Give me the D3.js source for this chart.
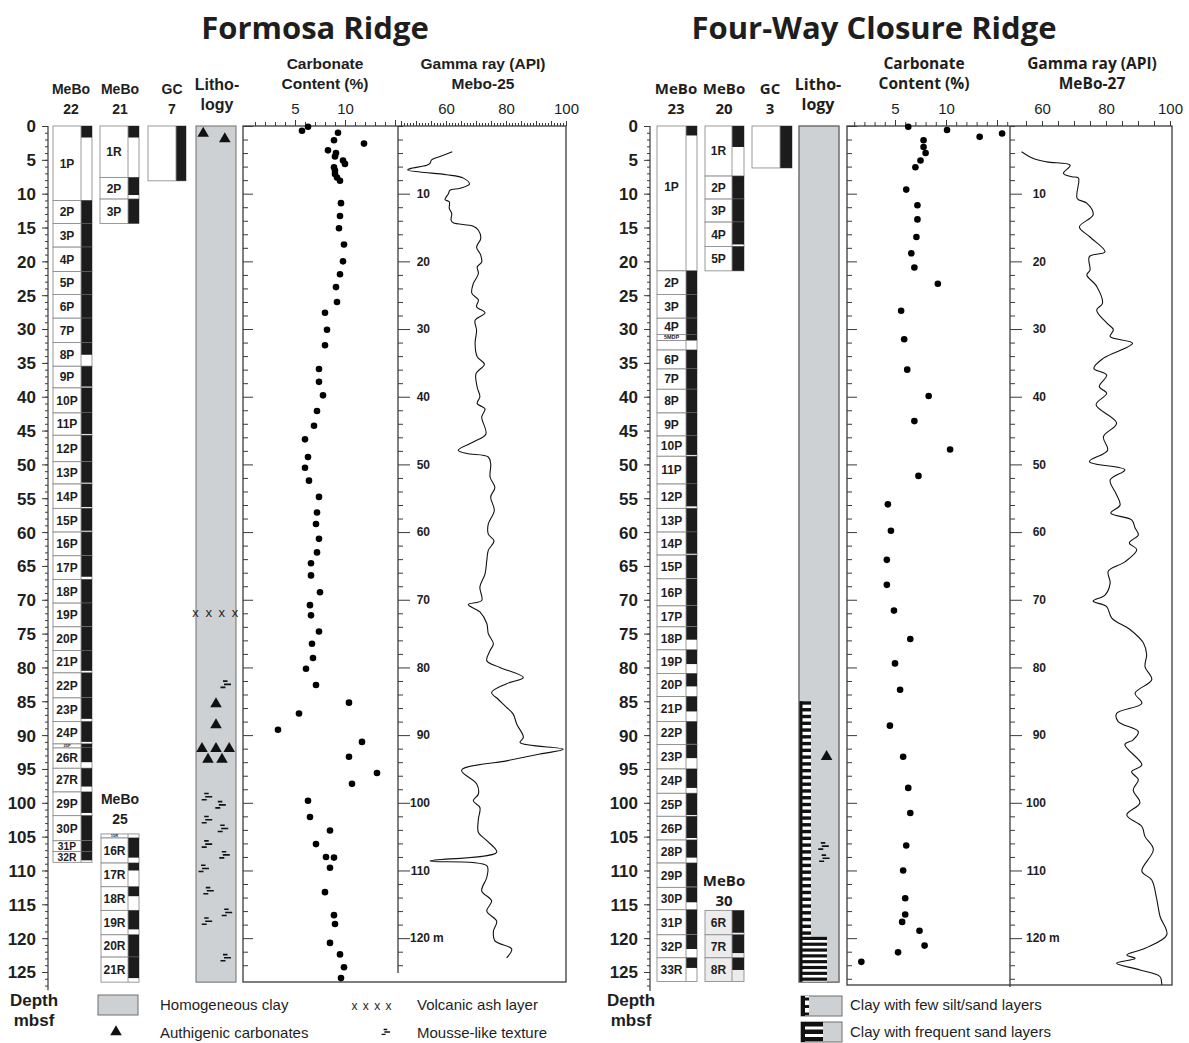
<!DOCTYPE html>
<html>
<head>
<meta charset="utf-8">
<script src="https://cdn.jsdelivr.net/npm/d3@7"></script>
<style>
  body { margin: 0; background: #fff; }
  svg { display: block; }
  text { font-family: "Liberation Sans", Arial, sans-serif; fill: #1e1e1e; }
</style>
</head>
<body>
<svg id="chart" width="1189" height="1043"></svg>
<script>
// ---------- Formosa Ridge ----------
// sections: [name, top (m), bottom (m), recovered down to (m)]
const mebo22 = [
  ["1P", 0, 11.0, 1.7], ["2P", 11.0, 14.4, 14.4], ["3P", 14.4, 17.9, 17.9], ["4P", 17.9, 21.5, 21.5],
  ["5P", 21.5, 24.9, 24.9], ["6P", 24.9, 28.4, 28.4], ["7P", 28.4, 32.0, 32.0], ["8P", 32.0, 35.5, 33.8],
  ["9P", 35.5, 38.7, 38.5], ["10P", 38.7, 42.4, 42.4], ["11P", 42.4, 45.7, 45.5], ["12P", 45.7, 49.6, 49.6],
  ["13P", 49.6, 52.9, 52.7], ["14P", 52.9, 56.5, 56.3], ["15P", 56.5, 60.0, 59.8], ["16P", 60.0, 63.5, 63.5],
  ["17P", 63.5, 67.0, 66.6], ["18P", 67.0, 70.5, 70.5], ["19P", 70.5, 74.0, 74.0], ["20P", 74.0, 77.5, 77.5],
  ["21P", 77.5, 80.8, 80.5], ["22P", 80.8, 84.5, 84.5], ["23P", 84.5, 88.0, 87.6], ["24P", 88.0, 91.3, 91.0],
  ["25P", 91.3, 91.9, 91.9], ["26R", 91.9, 94.9, 94.0], ["27R", 94.9, 98.4, 97.6], ["29P", 98.4, 101.9, 101.5],
  ["30P", 101.9, 105.6, 105.6], ["31P", 105.6, 107.2, 107.2], ["32R", 107.2, 108.8, 108.5]
];
const mebo21 = [["1R", 0, 7.6, 1.7], ["2P", 7.6, 10.8, 10.2], ["3P", 10.8, 14.4, 14.4]];
const gc7 = [["", 0, 8.1, 8.1]];
const mebo25 = [
  ["15R", 104.6, 105.2, 104.6], ["16R", 105.2, 108.9, 108.1], ["17R", 108.9, 112.4, 110.0],
  ["18R", 112.4, 115.9, 113.8], ["19R", 115.9, 119.5, 118.7], ["20R", 119.5, 122.8, 122.8],
  ["21R", 122.8, 126.5, 125.9]
];
// carbonate content: [depth, %]
const carbFormosa = [
  [0.1, 6.3], [0.7, 5.7], [1.0, 9.3], [2.1, 8.9], [2.6, 11.9], [3.6, 8.3], [4.0, 9.1], [4.5, 9.0],
  [5.1, 9.8], [5.6, 10.0], [6.1, 8.9], [6.6, 9.0], [7.1, 9.0], [7.6, 9.2], [8.1, 9.5], [11.4, 9.6],
  [13.3, 9.5], [15.1, 9.4], [17.5, 9.9], [20.0, 9.8], [21.9, 9.5], [23.8, 9.1], [26.0, 9.2], [27.6, 8.0],
  [30.1, 8.2], [32.4, 8.0], [35.9, 7.4], [37.8, 7.4], [39.8, 7.8], [42.1, 7.2], [44.3, 6.9], [46.3, 6.0],
  [48.9, 6.3], [50.5, 6.0], [52.4, 6.4], [54.8, 7.4], [57.1, 7.2], [58.8, 7.1], [61.0, 7.4], [63.0, 7.2],
  [64.6, 6.6], [66.4, 6.6], [68.9, 7.5], [70.8, 6.5], [72.3, 6.6], [74.7, 7.4], [76.5, 6.7], [78.6, 6.8],
  [80.2, 6.1], [82.6, 7.1], [85.2, 10.4], [86.8, 5.4], [89.2, 3.3], [91.0, 11.7], [93.2, 10.4], [95.6, 13.2],
  [97.2, 10.7], [99.7, 6.3], [102.1, 6.5], [104.1, 8.5], [106.1, 7.1], [108.0, 8.1], [108.1, 8.9],
  [109.6, 8.5], [113.2, 8.0], [116.6, 8.9], [117.9, 9.0], [120.7, 8.5], [122.4, 9.5], [124.3, 9.9], [125.9, 9.6]
];
// gamma ray Mebo-25: [depth, API]
const gammaFormosa = [
  [3.8, 62.1], [4.5, 58], [5.0, 55.2], [5.5, 54.7], [5.8, 53.6], [6.3, 48], [6.5, 47.2], [6.8, 51.3],
  [7.2, 60.2], [7.7, 65.8], [8.6, 67.8], [9.2, 64.7], [9.5, 61.3], [10.0, 60.8], [10.6, 59.9], [10.9, 59.7],
  [11.2, 61.1], [12.2, 61.1], [12.9, 61.9], [13.9, 61.7], [14.3, 62.4], [14.8, 69.1], [15.4, 70.8],
  [16.6, 71.6], [17.9, 70.2], [19.0, 71.5], [20.1, 71.9], [20.8, 70.4], [21.8, 70.8], [23.3, 69.1],
  [24.7, 68.6], [25.7, 70.8], [26.7, 70.2], [27.6, 73], [28.7, 69.7], [30.2, 70.2], [32.1, 69.7],
  [34.1, 70.4], [35.2, 72.8], [36.6, 70], [38.6, 70.4], [40.0, 71.3], [41.0, 70.4], [41.8, 73],
  [43.0, 71.9], [45.5, 73.3], [46.7, 69.1], [47.9, 64.1], [48.4, 66.9], [48.9, 74.1], [49.9, 74.9],
  [51.9, 74.7], [53.4, 76.3], [54.8, 74.9], [56.8, 76.1], [58.8, 74.1], [60.3, 74.1], [61.3, 76],
  [62.7, 74.1], [64.2, 73.6], [66.2, 73], [68.1, 71.3], [70.1, 71.9], [70.7, 67.4], [71.8, 71.3],
  [73.5, 73.6], [75.0, 74.1], [76.5, 75.8], [77.5, 74.7], [79.0, 73.6], [80.0, 78], [81.5, 85.8],
  [82.4, 80.2], [83.7, 75.2], [84.7, 77.4], [85.9, 80.2], [86.9, 82.4], [88.4, 83.6], [90.3, 85.8],
  [91.1, 84.7], [92.1, 99.1], [92.8, 91.3], [93.8, 80.2], [95.2, 65.2], [97.2, 70.2], [98.7, 70.8],
  [99.7, 69.1], [100.7, 71.3], [102.4, 70.8], [104.4, 70.8], [105.6, 73.6], [107.3, 76.9], [108.6, 54.7],
  [109.3, 73.6], [111.0, 73.6], [113.0, 71.9], [114.5, 75.2], [116.0, 73.6], [117.5, 76.9], [119.0, 75.8],
  [120.4, 76.3], [121.6, 81.9], [122.9, 80.2]
];
// lithology symbols: [depth, position across the column 0..1]
const authFormosa = [[1.1, 0.18], [1.9, 0.72], [85.4, 0.5], [88.5, 0.5], [92.0, 0.15], [92.0, 0.5], [92.0, 0.83], [93.6, 0.3], [93.6, 0.65]];
const mousseFormosa = [[82.5, 0.75], [99.1, 0.28], [100.3, 0.62], [102.5, 0.28], [103.8, 0.68], [106.1, 0.28], [107.7, 0.72], [109.7, 0.2], [113.0, 0.32], [116.2, 0.78], [117.5, 0.28], [122.9, 0.75]];
const ashFormosa = [72.0];

// ---------- Four-Way Closure Ridge ----------
const mebo23 = [
  ["1P", 0, 21.4, 1.4], ["2P", 21.4, 24.9, 24.9], ["3P", 24.9, 28.4, 28.4], ["4P", 28.4, 30.8, 30.8],
  ["5MDP", 30.8, 31.7, 31.7], ["", 31.7, 33.1, 31.7], ["6P", 33.1, 35.9, 35.9], ["7P", 35.9, 38.9, 38.9],
  ["8P", 38.9, 42.4, 42.4], ["9P", 42.4, 45.8, 45.8], ["10P", 45.8, 48.8, 48.6], ["11P", 48.8, 52.9, 52.9],
  ["12P", 52.9, 56.5, 56.2], ["13P", 56.5, 60.0, 60.0], ["14P", 60.0, 63.4, 63.2], ["15P", 63.4, 66.9, 66.8],
  ["16P", 66.9, 70.9, 70.9], ["17P", 70.9, 74.0, 74.0], ["18P", 74.0, 77.4, 75.9], ["19P", 77.4, 80.9, 79.5],
  ["20P", 80.9, 84.3, 82.8], ["21P", 84.3, 88.0, 86.5], ["22P", 88.0, 91.4, 91.3], ["23P", 91.4, 95.0, 93.4],
  ["24P", 95.0, 98.6, 97.8], ["25P", 98.6, 102.0, 101.8], ["26P", 102.0, 105.5, 105.2], ["28P", 105.5, 108.9, 108.1],
  ["29P", 108.9, 112.5, 112.4], ["30P", 112.5, 115.8, 114.7], ["31P", 115.8, 119.5, 119.5], ["32P", 119.5, 122.9, 121.6],
  ["33R", 122.9, 126.4, 124.4]
];
const mebo20 = [["1R", 0, 7.4, 3.1], ["2P", 7.4, 10.8, 10.8], ["3P", 10.8, 14.2, 14.2], ["4P", 14.2, 17.8, 17.5], ["5P", 17.8, 21.4, 21.4]];
const gc3 = [["", 0, 6.2, 6.2]];
const mebo30 = [["6R", 115.9, 119.5, 119.2], ["7R", 119.5, 122.9, 122.2], ["8R", 122.9, 126.4, 124.7]];
const carbFourWay = [
  [0.1, 6.3], [0.6, 10.1], [1.6, 13.3], [1.1, 15.5], [2.1, 7.8], [3.1, 7.8], [4.0, 8.0], [5.1, 7.5],
  [6.1, 7.0], [9.4, 6.1], [11.7, 7.2], [13.8, 7.2], [16.4, 7.1], [18.8, 6.6], [20.9, 6.9], [23.3, 9.2],
  [27.3, 5.6], [31.5, 5.9], [36.0, 6.2], [39.9, 8.3], [43.6, 6.9], [47.8, 10.4], [51.7, 7.3], [55.9, 4.3],
  [59.8, 4.6], [64.1, 4.2], [67.8, 4.2], [71.6, 4.9], [75.8, 6.5], [79.4, 5.0], [83.3, 5.5], [88.6, 4.5],
  [93.2, 5.8], [97.8, 6.3], [101.5, 6.5], [106.3, 6.1], [110.0, 5.8], [114.1, 6.0], [116.5, 6.0],
  [117.6, 5.7], [118.9, 7.4], [121.1, 7.9], [122.1, 5.3], [123.5, 1.7]
];
const gammaFourWay = [
  [3.8, 53.6], [4.8, 57.3], [5.3, 61.5], [5.8, 68.8], [7.0, 66.7], [7.5, 69.3], [7.7, 71.4], [10.7, 71],
  [11.4, 74], [13.1, 76], [14.9, 71.7], [16.4, 75], [18.6, 79.7], [19.3, 74.8], [21.3, 75], [22.0, 74],
  [23.7, 77.1], [26.2, 78.9], [27.2, 77.1], [29.1, 80.2], [30.1, 82.3], [31.1, 81.3], [32.1, 88.3],
  [34.3, 79.2], [35.8, 76.2], [36.8, 80.2], [38.5, 77.9], [39.5, 80.2], [41.2, 76.9], [43.9, 83.3],
  [45.9, 79.2], [47.9, 80.5], [49.6, 74.8], [50.8, 85.9], [52.3, 81.3], [54.3, 83.1], [56.0, 84.4],
  [57.2, 81.5], [58.2, 88], [59.4, 89.1], [60.4, 90.1], [61.6, 87.3], [62.6, 89.6], [64.4, 85.9],
  [65.8, 80.7], [67.5, 81.3], [69.3, 79.7], [70.2, 76], [71.0, 80.2], [72.7, 81.8], [74.4, 87.5],
  [76.4, 91.7], [78.1, 92.7], [79.9, 92.2], [81.8, 94.3], [83.8, 89.1], [85.3, 91.2], [86.8, 83.3],
  [88.0, 83.8], [89.5, 90.1], [90.7, 88.5], [91.4, 85.9], [94.4, 91.2], [95.4, 88], [96.6, 90.1],
  [98.1, 88.5], [100.0, 90.6], [101.8, 86.5], [103.5, 91.2], [105.0, 92.2], [106.9, 94.8], [110.1, 91.2],
  [111.4, 94.3], [114.1, 95.8], [116.8, 96.9], [119.5, 99], [121.5, 92.2], [122.5, 86.5], [123.0, 89.1],
  [123.7, 83.3], [124.7, 90.6], [125.7, 96.9], [126.9, 97.4]
];
const authFourWay = [[93.2, 0.69]];
const mousseFourWay = [[106.4, 0.62], [108.2, 0.64]];
const sandFew = [85.0, 119.8];
const sandFrequent = [119.8, 126.4];

const depthLabels = d3.range(0, 126, 5);

// ---------- shared ----------
const svg = d3.select("#chart");
const y = d3.scaleLinear().domain([0, 125]).range([126, 972]);
const GRAY = "#cdd1d4";
const FRAME = "#3a3a3a";

// titles
svg.append("text").attr("x", 315).attr("y", 39).attr("text-anchor", "middle")
  .style("font-family", "'Open Sans', sans-serif").style("font-weight", "bold").style("font-size", "31px")
  .text("Formosa Ridge");
svg.append("text").attr("x", 874).attr("y", 39).attr("text-anchor", "middle")
  .style("font-family", "'Open Sans', sans-serif").style("font-weight", "bold").style("font-size", "31px")
  .text("Four-Way Closure Ridge");

function headerText(x, lines, y0, size, family) {
  const t = svg.append("text").attr("text-anchor", "middle")
    .style("font-weight", "bold").style("font-size", size + "px");
  if (family) t.style("font-family", family);
  lines.forEach((l, i) => t.append("tspan").attr("x", x).attr("y", y0 + i * 20).text(l));
}

function depthAxis(x0, maxDepth) {
  const minor = svg.append("g").attr("transform", `translate(${x0},0)`)
    .call(d3.axisLeft(y).tickValues(d3.range(0, maxDepth + 0.01, 1)).tickSize(3).tickFormat(""));
  minor.select(".domain").remove();
  const major = svg.append("g").attr("transform", `translate(${x0},0)`)
    .call(d3.axisLeft(y).tickValues(depthLabels).tickSize(6).tickPadding(6));
  major.select(".domain").remove();
  major.selectAll("text").style("font-size", "17px").style("font-weight", "bold").attr("dy", "0.35em");
  svg.selectAll(".tick line").attr("stroke", FRAME);
  svg.append("line").attr("x1", x0).attr("x2", x0).attr("y1", y(0)).attr("y2", y(maxDepth))
    .attr("stroke", FRAME).attr("stroke-width", 1.2);
}

function drawCore(sections, x0, wl, ws, fill) {
  const g = svg.append("g");
  const s = g.selectAll("g").data(sections).join("g");
  s.append("rect").attr("x", x0).attr("y", d => y(d[1]))
    .attr("width", wl + ws).attr("height", d => y(d[2]) - y(d[1]))
    .attr("fill", fill).attr("stroke", "#8f8f8f").attr("stroke-width", 0.9);
  s.append("rect").attr("x", x0 + wl).attr("y", d => y(d[1]))
    .attr("width", ws).attr("height", d => Math.max(0, y(d[3]) - y(d[1])))
    .attr("fill", "#1c1c1c");
  s.append("line").attr("x1", x0 + wl).attr("x2", x0 + wl)
    .attr("y1", d => y(d[1])).attr("y2", d => y(d[2]))
    .attr("stroke", "#8f8f8f").attr("stroke-width", 0.9);
  s.append("text")
    .attr("x", x0 + wl / 2)
    .attr("text-anchor", "middle")
    .each(function(d) {
      const h = y(d[2]) - y(d[1]);
      const fs = h < 7 ? Math.max(4, h * 0.9) : Math.min(12, h * 0.95);
      const mid = Math.min((d[1] + d[2]) / 2, d[1] + 9);
      d3.select(this).attr("y", y(mid) + fs * 0.36)
        .style("font-size", fs + "px").style("font-weight", "bold").text(d[0]);
    });
}

function drawLithology(x0, x1, bottom) {
  svg.append("rect").attr("x", x0).attr("y", y(0)).attr("width", x1 - x0)
    .attr("height", y(bottom) - y(0)).attr("fill", GRAY).attr("stroke", "#6e6e6e").attr("stroke-width", 1);
}

const triangle = d3.symbol(d3.symbolTriangle, 58);
const moussePath = "M-3,-3.2H1.5M-2,0H5M-5.5,3H-0.5";

function drawSymbols(xl, auth, mousse) {
  svg.append("g").selectAll("path").data(auth).join("path")
    .attr("d", triangle)
    .attr("transform", d => `translate(${xl(d[1])},${y(d[0])})`)
    .attr("fill", "#111");
  svg.append("g").selectAll("path").data(mousse).join("path")
    .attr("d", moussePath)
    .attr("transform", d => `translate(${xl(d[1])},${y(d[0])})`)
    .attr("stroke", "#111").attr("stroke-width", 1.6).attr("fill", "none");
}

function drawPanels(o) {
  // frame
  svg.append("rect").attr("x", o.cx0).attr("y", y(0)).attr("width", o.gx1 - o.cx0)
    .attr("height", o.bottomY - y(0)).attr("fill", "none").attr("stroke", FRAME).attr("stroke-width", 1.3);

  // carbonate top axis
  const ct = svg.append("g").attr("transform", `translate(0,${y(0)})`)
    .call(d3.axisTop(o.xc).tickValues(o.carbTicks).tickSize(4)
      .tickFormat(d => (d === 5 || d === 10) ? d : ""));
  ct.select(".domain").remove();
  ct.selectAll(".tick line").attr("stroke", FRAME).attr("y2", d => (d % 5 === 0) ? -6 : -4);
  ct.selectAll("text").attr("y", -12).style("font-size", "15px");

  // gamma top axis
  const gt = svg.append("g").attr("transform", `translate(0,${y(0)})`)
    .call(d3.axisTop(o.xg).tickValues(o.gamTicks).tickSize(4)
      .tickFormat(d => (d % 20 === 0) ? d : ""));
  gt.select(".domain").remove();
  gt.selectAll(".tick line").attr("stroke", FRAME).attr("y2", d => (d % 5 === 0) ? -5 : -3);
  gt.selectAll("text").attr("y", -12).style("font-size", "15px");

  // depth ticks inside carbonate panel (left border)
  const cl = svg.append("g").attr("transform", `translate(${o.cx0},0)`)
    .call(d3.axisRight(y).tickValues(d3.range(0, o.innerMax + 0.01, 2)).tickSize(5).tickFormat(""));
  cl.select(".domain").remove();
  cl.selectAll(".tick line").attr("stroke", FRAME).attr("x2", d => d % 10 === 0 ? 10 : 5);

  // divider = gamma depth axis
  svg.append("line").attr("x1", o.gx0).attr("x2", o.gx0).attr("y1", y(0)).attr("y2", o.dividerY)
    .attr("stroke", FRAME).attr("stroke-width", 1.3);
  const gl = svg.append("g").attr("transform", `translate(${o.gx0},0)`)
    .call(d3.axisRight(y).tickValues(d3.range(0, o.innerMax + 0.01, 2)).tickSize(5).tickFormat(""));
  gl.select(".domain").remove();
  gl.selectAll(".tick line").attr("stroke", FRAME).attr("x2", d => (d % 10 === 0 && d > 0) ? 12 : 5);
  svg.append("g").selectAll("text").data(d3.range(10, 121, 10)).join("text")
    .attr("x", o.gx0 + o.labelOff).attr("y", d => y(d)).attr("dy", "0.36em")
    .attr("text-anchor", "end").style("font-size", "12px").style("font-weight", "bold")
    .text(d => d);
  svg.append("text").attr("x", o.gx0 + o.labelOff + 3).attr("y", y(120)).attr("dy", "0.36em")
    .style("font-size", "12px").style("font-weight", "bold").text("m");

  // carbonate dots
  svg.append("g").selectAll("circle").data(o.carb).join("circle")
    .attr("cx", d => o.xc(d[1])).attr("cy", d => y(d[0])).attr("r", 3.3).attr("fill", "#000");

  // gamma curve
  const line = d3.line().x(d => o.xg(d[1])).y(d => y(d[0])).curve(d3.curveCatmullRom.alpha(0.5));
  svg.append("path").datum(o.gamma).attr("d", line)
    .attr("fill", "none").attr("stroke", "#111").attr("stroke-width", 1.1);
}

// ---------- Formosa Ridge ----------
headerText(71, ["MeBo", "22"], 94, 14);
headerText(120, ["MeBo", "21"], 94, 14);
headerText(172, ["GC", "7"], 94, 14);
headerText(217, ["Litho-", "logy"], 90, 16);
headerText(325, ["Carbonate", "Content (%)"], 69, 15.5);
headerText(483, ["Gamma ray (API)", "Mebo-25"], 69, 15.5);

depthAxis(48, 127.7);
drawCore(mebo22, 53, 28, 11, "#fff");
drawCore(mebo21, 100, 28, 11, "#fff");
drawCore(gc7, 148, 28, 10, "#fff");
headerText(120, ["MeBo", "25"], 804, 14);
drawCore(mebo25, 101, 27, 11, "#fff");

drawLithology(196, 236, 126.5);
const xlF = d3.scaleLinear().domain([0, 1]).range([196, 236]);
drawSymbols(xlF, authFormosa, mousseFormosa);
svg.append("g").selectAll("text").data(ashFormosa).join("text")
  .attr("x", xlF(0.5)).attr("y", d => y(d)).attr("dy", "0.32em").attr("text-anchor", "middle")
  .style("font-size", "13px").style("letter-spacing", "1.5px").text("x x x x");

drawPanels({
  cx0: 243, gx0: 398, gx1: 566, bottomY: 982, dividerY: 973, innerMax: 124, labelOff: 32,
  xc: d3.scaleLinear().domain([0, 15]).range([245, 395]),
  xg: d3.scaleLinear().domain([60, 100]).range([446, 566]),
  carbTicks: d3.range(1, 16, 1), gamTicks: d3.range(45, 101, 1),
  carb: carbFormosa, gamma: gammaFormosa
});

// ---------- Four-Way Closure Ridge ----------
headerText(676, ["MeBo", "23"], 94, 15, "'Open Sans', sans-serif");
headerText(724, ["MeBo", "20"], 94, 15, "'Open Sans', sans-serif");
headerText(770, ["GC", "3"], 94, 15, "'Open Sans', sans-serif");
headerText(818, ["Litho-", "logy"], 90, 16, "'Open Sans', sans-serif");
headerText(924, ["Carbonate", "Content (%)"], 69, 15.5, "'Open Sans', sans-serif");
headerText(1092, ["Gamma ray (API)", "MeBo-27"], 69, 15.5, "'Open Sans', sans-serif");

depthAxis(650, 127.8);
drawCore(mebo23, 657, 29, 11, "#fff");
drawCore(mebo20, 705, 27, 12, "#fff");
drawCore(gc3, 752, 28, 12, "#fff");
headerText(724, ["MeBo", "30"], 886, 15, "'Open Sans', sans-serif");
drawCore(mebo30, 705, 27, 12, "#ececec");

drawLithology(799, 839, 126.5);
// sand layers
const xlR = d3.scaleLinear().domain([0, 1]).range([799, 839]);
svg.append("rect").attr("x", xlR(0)).attr("y", y(sandFew[0])).attr("width", xlR(0.3) - xlR(0))
  .attr("height", y(126.5) - y(sandFew[0])).attr("fill", "#fff");
svg.append("rect").attr("x", xlR(0)).attr("y", y(sandFrequent[0])).attr("width", xlR(0.7) - xlR(0))
  .attr("height", y(126.5) - y(sandFrequent[0])).attr("fill", "#fff");
svg.append("rect").attr("x", xlR(0)).attr("y", y(sandFew[0])).attr("width", 3.5)
  .attr("height", y(126.5) - y(sandFew[0])).attr("fill", "#111");
svg.append("g").selectAll("rect").data(d3.range(sandFew[0], sandFew[1] - 0.3, 1.0)).join("rect")
  .attr("x", xlR(0)).attr("y", d => y(d)).attr("width", xlR(0.3) - xlR(0)).attr("height", 3.4).attr("fill", "#111");
svg.append("g").selectAll("rect").data(d3.range(sandFrequent[0], sandFrequent[1] - 0.2, 0.86)).join("rect")
  .attr("x", xlR(0)).attr("y", d => y(d)).attr("width", xlR(0.7) - xlR(0)).attr("height", 3.2).attr("fill", "#111");
svg.append("rect").attr("x", 799).attr("y", y(0)).attr("width", 40).attr("height", y(126.5) - y(0))
  .attr("fill", "none").attr("stroke", "#6e6e6e");
drawSymbols(xlR, authFourWay, mousseFourWay);

drawPanels({
  cx0: 847, gx0: 1010, gx1: 1172, bottomY: 985, dividerY: 987, innerMax: 126, labelOff: 36,
  xc: d3.scaleLinear().domain([0, 16]).range([844, 1007.2]),
  xg: d3.scaleLinear().domain([50, 100]).range([1010, 1170]),
  carbTicks: d3.range(1, 17, 1), gamTicks: d3.range(55, 101, 5),
  carb: carbFourWay, gamma: gammaFourWay
});

// ---------- legends ----------
const NARROW = "'Liberation Sans Narrow', 'Arial Narrow', 'Liberation Sans', sans-serif";
headerText(34, ["Depth", "mbsf"], 1006, 17);
headerText(631, ["Depth", "mbsf"], 1006, 17);

svg.append("rect").attr("x", 98).attr("y", 995).attr("width", 40).attr("height", 20)
  .attr("fill", GRAY).attr("stroke", "#6e6e6e");
svg.append("path").attr("d", triangle).attr("transform", "translate(116,1032)").attr("fill", "#111");
svg.append("text").attr("x", 372).attr("y", 1010).attr("text-anchor", "middle")
  .style("font-size", "12px").style("letter-spacing", "1px").text("x x x x");
svg.append("path").attr("d", moussePath).attr("transform", "translate(386,1032) scale(0.8)")
  .attr("stroke", "#111").attr("stroke-width", 1.8).attr("fill", "none");

const legendTexts = [
  ["Homogeneous clay", 160, 1010], ["Authigenic carbonates", 160, 1038],
  ["Volcanic ash layer", 417, 1010], ["Mousse-like texture", 417, 1038],
  ["Clay with few silt/sand layers", 850, 1010], ["Clay with frequent sand layers", 850, 1037]
];
svg.append("g").selectAll("text").data(legendTexts).join("text")
  .attr("x", d => d[1]).attr("y", d => d[2])
  .style("font-family", NARROW).style("font-size", "15px").text(d => d[0]);

// sand legend icons
[[996, "few"], [1022, "frequent"]].forEach(([top, kind]) => {
  svg.append("rect").attr("x", 801).attr("y", top).attr("width", 41).attr("height", 20)
    .attr("fill", GRAY).attr("stroke", "#6e6e6e");
  const w = kind === "few" ? 8 : 22;
  svg.append("rect").attr("x", 801).attr("y", top).attr("width", w).attr("height", 20).attr("fill", "#fff");
  svg.append("rect").attr("x", 801).attr("y", top).attr("width", 4).attr("height", 20).attr("fill", "#111");
  [0, 1, 2].forEach(i => svg.append("rect").attr("x", 801).attr("y", top + i * 7.5 + (kind === "few" ? 1.5 : 0))
    .attr("width", w).attr("height", kind === "few" ? 3 : 4.5).attr("fill", "#111"));
});
</script>
</body>
</html>
